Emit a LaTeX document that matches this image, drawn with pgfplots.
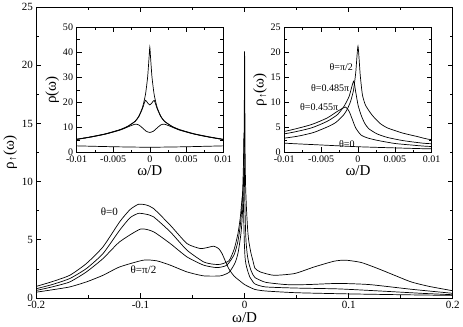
\documentclass[border=0pt]{standalone}
\usepackage{pgfplots}
\pgfplotsset{compat=1.18}
\usepackage{fontspec}
\setmainfont{Liberation Serif}

% main panel, rho_up(omega), theta = 0, 0.455pi, 0.485pi, pi/2
\pgfplotstableread{
x y
-0.2 1.0
-0.185 1.4
-0.168 1.95
-0.152 2.96
-0.136 4.4
-0.12 6.55
-0.11 7.6
-0.102 8.05
-0.095 8.0
-0.0876 7.7
-0.0715 6.26
-0.0554 4.68
-0.0426 4.25
-0.035 4.35
-0.0297 4.45
-0.025 4.25
-0.0217 3.82
-0.0153 2.53
-0.01 1.87
-0.005 1.5
0 1.15
0.005 0.92
0.01 0.73
0.02 0.6
0.05 0.45
0.1 0.35
0.15 0.28
0.2 0.22
}\thzero
\pgfplotstableread{
x y
-0.2 0.8
-0.185 1.15
-0.168 1.67
-0.152 2.53
-0.136 3.82
-0.12 5.83
-0.11 6.9
-0.102 7.27
-0.095 7.2
-0.0876 6.98
-0.0715 5.69
-0.0554 4.11
-0.0394 3.1
-0.03 2.9
-0.023 2.9
-0.015 3.2
-0.01 4.2
-0.0064 5.53
-0.0042 6.87
-0.0028 8.2
-0.0017 9.07
-0.0012 8.2
-0.00075 6.53
-0.0003 4.87
0.0004 3.5
0.0013 2.9
0.0027 2.4
0.005 1.8
0.0072 1.5
0.01 1.2
0.02 0.95
0.05 0.85
0.09 0.78
0.13 0.6
0.17 0.4
0.2 0.28
}\thA
\pgfplotstableread{
x y
-0.2 0.65
-0.185 0.95
-0.168 1.38
-0.152 2.24
-0.136 3.39
-0.12 4.83
-0.1 5.92
-0.0876 5.69
-0.0715 4.68
-0.0554 3.53
-0.0394 2.82
-0.0265 2.61
-0.017 2.82
-0.01 3.73
-0.0064 4.87
-0.0042 6.2
-0.0028 7.53
-0.0019 9.2
-0.0012 11.2
-0.0006 14.2
-0.0003 12.0
0 9.5
0.0003 8.0
0.0006 6.8
0.001 5.6
0.0015 4.7
0.0026 3.7
0.004 3.0
0.006 2.4
0.008 2.0
0.01 1.75
0.02 1.35
0.04 1.15
0.06 1.15
0.09 1.25
0.12 1.15
0.16 0.75
0.2 0.4
}\thB
\pgfplotstableread{
x y
-0.2 0.5
-0.185 0.7
-0.168 0.95
-0.152 1.38
-0.136 1.95
-0.12 2.67
-0.0972 3.25
-0.0843 3.19
-0.0715 2.82
-0.0554 2.24
-0.0394 1.9
-0.0233 1.9
-0.015 2.2
-0.01 2.87
-0.008 3.3
-0.006 4.0
-0.004 5.2
-0.003 6.0
-0.002 7.4
-0.0015 8.5
-0.001 10.2
-0.0006 12.5
-0.0003 16
0 21.2
0.0003 15.5
0.0006 11.5
0.001 9.5
0.0015 8.3
0.002 7.3
0.003 5.8
0.004 4.9
0.006 3.9
0.008 3.2
0.01 2.55
0.015 2.24
0.028 1.95
0.048 2.1
0.067 2.67
0.086 3.16
0.097 3.25
0.112 3.05
0.128 2.53
0.144 1.95
0.16 1.38
0.177 1.0
0.2 0.62
}\thC

% left inset, total rho(omega)
\pgfplotstableread{
x y
-0.01 5.3
-0.008 6.3
-0.006 7.5
-0.004 9.2
-0.003 10.5
-0.002 12.5
-0.0015 14.5
-0.001 18
-0.0006 23
-0.0003 30
-0.0001 38
0 42
0.0001 38
0.0003 30
0.0006 23
0.001 18
0.0015 14.5
0.002 12.5
0.003 10.5
0.004 9.2
0.006 7.5
0.008 6.3
0.01 5.3
}\totC
\pgfplotstableread{
x y
-0.01 5.2
-0.008 6.2
-0.006 7.4
-0.004 9.1
-0.003 10.4
-0.002 12.4
-0.0015 14.3
-0.001 17.5
-0.0006 20.8
-0.0003 19.8
0 19.0
0.0003 19.8
0.0006 20.8
0.001 17.5
0.0015 14.3
0.002 12.4
0.003 10.4
0.004 9.1
0.006 7.4
0.008 6.2
0.01 5.2
}\totB
\pgfplotstableread{
x y
-0.01 5.2
-0.008 6.2
-0.006 7.4
-0.004 9.0
-0.003 10.2
-0.002 11.3
-0.0015 11.0
-0.001 9.8
-0.0005 8.5
0 8.0
0.0005 8.5
0.001 9.8
0.0015 11.0
0.002 11.3
0.003 10.2
0.004 9.0
0.006 7.4
0.008 6.2
0.01 5.2
}\totA
\pgfplotstableread{
x y
-0.01 2.65
-0.005 2.3
0 2.1
0.005 2.3
0.01 2.65
}\totzero

\pgfplotsset{
  every axis/.append style={
    scale only axis,
    scaled x ticks=false,
    scaled y ticks=false,
    axis line style={line width=0.8pt},
    tick align=inside,
    major tick length=5pt,
    minor tick length=3pt,
    every tick/.style={black, line width=0.6pt},
    minor x tick num=1,
    minor y tick num=1,
    tick label style={font=\fontsize{11}{11}\selectfont},
    label style={font=\fontsize{15}{15}\selectfont},
    clip=true,
  },
  curve/.style={black, line width=0.7pt, smooth, tension=0.35, no marks},
}

\begin{document}
\begin{tikzpicture}
\begin{axis}[
  name=main,
  width=415pt, height=290pt,
  xmin=-0.2, xmax=0.2, ymin=0, ymax=25,
  xtick={-0.2,-0.1,0,0.1,0.2},
  xticklabels={-0.2,-0.1,0,0.1,0.2},
  ytick={0,5,10,15,20,25},
  yticklabels={0,5,10,15,20,25},
  xlabel={ω/D},
  ylabel={ρ\textsubscript{↑}(ω)},
  xlabel style={yshift=3pt},
  ylabel style={yshift=-2pt},
]
\addplot[curve] table {\thzero};
\addplot[curve] table {\thA};
\addplot[curve] table {\thB};
\addplot[curve] table {\thC};
\node[font=\fontsize{11}{11}\selectfont] at (axis cs:-0.13,7.4) {θ=0};
\node[font=\fontsize{11}{11}\selectfont] at (axis cs:-0.0972,2.44) {θ=π/2};
\end{axis}

\begin{axis}[
  at={(40pt,145pt)}, anchor=south west,
  width=146pt, height=125pt,
  xmin=-0.01, xmax=0.01, ymin=0, ymax=50,
  xtick={-0.01,-0.005,0,0.005,0.01},
  xticklabels={-0.01,-0.005,0,0.005,0.01},
  ytick={0,10,20,30,40,50},
  yticklabels={0,10,20,30,40,50},
  tick label style={font=\fontsize{10}{10}\selectfont},
  xlabel={ω/D},
  ylabel={ρ(ω)},
  xlabel style={yshift=4pt},
  ylabel style={yshift=-3pt},
]
\addplot[curve] table {\totzero};
\addplot[curve] table {\totA};
\addplot[curve] table {\totB};
\addplot[curve] table {\totC};
\end{axis}

\begin{axis}[
  at={(247pt,145pt)}, anchor=south west,
  width=147pt, height=125pt,
  xmin=-0.01, xmax=0.01, ymin=0, ymax=25,
  xtick={-0.01,-0.005,0,0.005,0.01},
  xticklabels={-0.01,-0.005,0,0.005,0.01},
  ytick={0,5,10,15,20,25},
  yticklabels={0,5,10,15,20,25},
  tick label style={font=\fontsize{10}{10}\selectfont},
  xlabel={ω/D},
  ylabel={ρ\textsubscript{↑}(ω)},
  xlabel style={yshift=4pt},
  ylabel style={yshift=-3pt},
]
\addplot[curve] table {\thzero};
\addplot[curve] table {\thA};
\addplot[curve] table {\thB};
\addplot[curve] table {\thC};
\node[font=\fontsize{10}{10}\selectfont, anchor=east] at (axis cs:-0.0002,17.0) {θ=π/2};
\node[font=\fontsize{10}{10}\selectfont, anchor=east] at (axis cs:-0.0007,12.9) {θ=0.485π};
\node[font=\fontsize{10}{10}\selectfont, anchor=east] at (axis cs:-0.0022,9.1) {θ=0.455π};
\node[font=\fontsize{10}{10}\selectfont] at (axis cs:-0.0015,1.7) {θ=0};
\end{axis}
\end{tikzpicture}
\end{document}
